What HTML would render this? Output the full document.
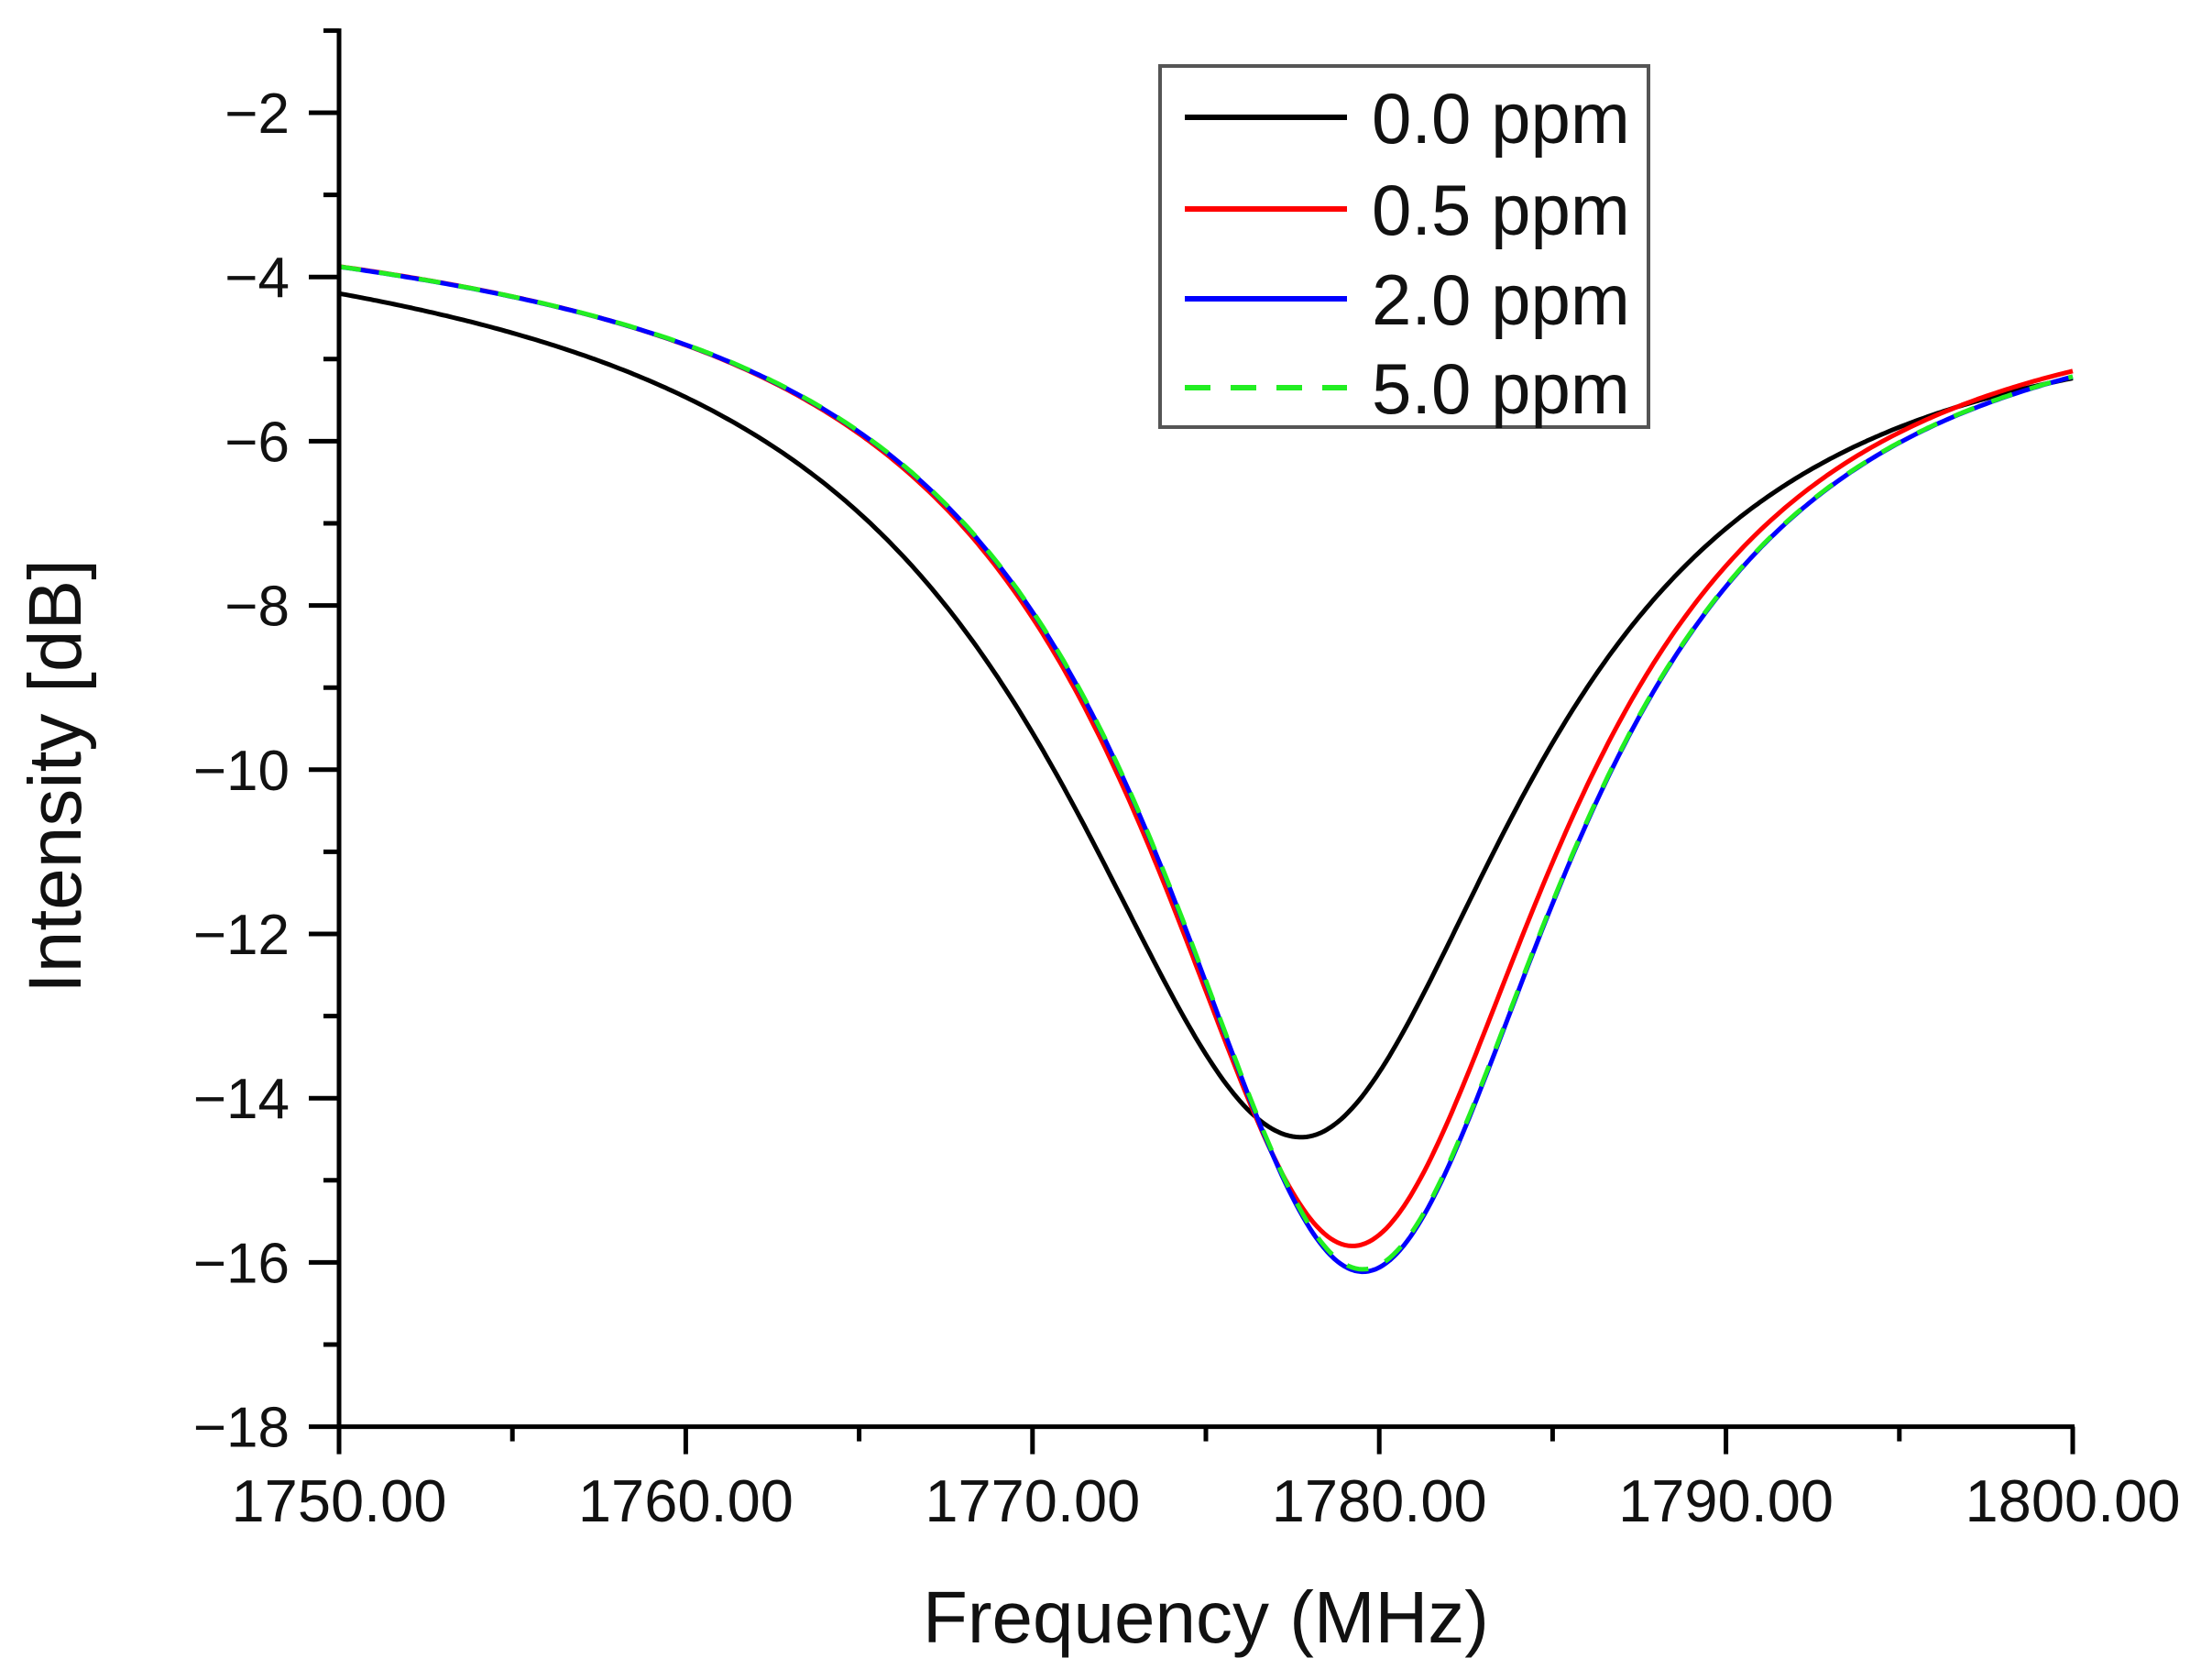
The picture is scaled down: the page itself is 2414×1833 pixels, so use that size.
<!DOCTYPE html>
<html><head><meta charset="utf-8"><style>html,body{margin:0;padding:0;background:#fff}svg{display:block}</style></head>
<body>
<svg id="s" width="2414" height="1833" viewBox="0 0 2414 1833" xmlns="http://www.w3.org/2000/svg" font-family="Liberation Sans, Arial, sans-serif">
<rect width="2414" height="1833" fill="#fff"/>
<g id="curves" fill="none" stroke-width="5" stroke-linejoin="round"></g>
<g id="ax" stroke="#000" stroke-width="5" fill="none"></g>
<g id="lab" fill="#111"></g>
<text x="1316" y="1792" font-size="80" text-anchor="middle" fill="#111">Frequency (MHz)</text>
<text transform="translate(88,847) rotate(-90)" font-size="82" text-anchor="middle" fill="#111">Intensity [dB]</text>
<rect x="1266" y="72" width="533" height="394" fill="#fff" stroke="#555" stroke-width="4"/>
<line x1="1293" y1="128" x2="1470" y2="128" stroke="#000" stroke-width="6"/>
<line x1="1293" y1="228" x2="1470" y2="228" stroke="#f00" stroke-width="6"/>
<line x1="1293" y1="326" x2="1470" y2="326" stroke="#00f" stroke-width="6"/>
<line x1="1293" y1="423" x2="1470" y2="423" stroke="#2e2" stroke-width="6" stroke-dasharray="28,22"/>
<g font-size="78" fill="#111">
<text x="1497" y="156">0.0 ppm</text>
<text x="1497" y="256">0.5 ppm</text>
<text x="1497" y="354">2.0 ppm</text>
<text x="1497" y="451">5.0 ppm</text>
</g>
</svg>
<script>
var X0=370,X1=2262,fx=function(f){return X0+(f-1750)*(X1-X0)/50;};
var fy=function(v){return 123+(-2-v)*89.6;};
var NS="http://www.w3.org/2000/svg";
function el(p,t,a){var e=document.createElementNS(NS,t);for(var k in a)e.setAttribute(k,a[k]);p.appendChild(e);return e;}
var ax=document.getElementById('ax'),lab=document.getElementById('lab');
el(ax,'line',{x1:X0,y1:31,x2:X0,y2:fy(-18)});
el(ax,'line',{x1:X0-2,y1:fy(-18),x2:X1+2,y2:fy(-18)});
for(var v=-1;v>=-18;v--){var maj=(v%2==0);el(ax,'line',{x1:X0-(maj?33:17),y1:fy(v),x2:X0,y2:fy(v)});
 if(maj){var t=el(lab,'text',{x:316,y:fy(v)+22,'font-size':62,'text-anchor':'end'});t.textContent='\u2212'+(-v);}}
for(var f=1750;f<=1800;f+=5){var maj=(f%10==0);el(ax,'line',{x1:fx(f),y1:fy(-18),x2:fx(f),y2:fy(-18)+(maj?30:16)});
 if(maj){var t=el(lab,'text',{x:fx(f),y:1660,'font-size':65,'text-anchor':'middle'});t.textContent=f+'.00';}}
function curve(b0,b1,f0,D,wl,wr,col,dash){var d='';for(var f=1750;f<=1800.001;f+=0.1){var b=b0+(b1-b0)*(f-1750)/50;var x=(f-f0)/(f<f0?wl:wr);var v=b-D/(1+x*x);d+=(d?'L':'M')+fx(f).toFixed(1)+','+fy(v).toFixed(1);}
 var a={d:d,stroke:col};if(dash)a['stroke-dasharray']=dash;el(document.getElementById('curves'),'path',a);}
curve(-3.25,-4.0,1777.7,10.81,8.6,8.0,'#000');
curve(-3.15,-3.8,1779.2,12.27,7.3,7.3,'#f00');
curve(-3.15,-3.8,1779.5,12.58,7.3,7.3,'#00f');
curve(-3.15,-3.8,1779.5,12.55,7.3,7.3,'#2e2','24,20');
</script>
</body></html>
